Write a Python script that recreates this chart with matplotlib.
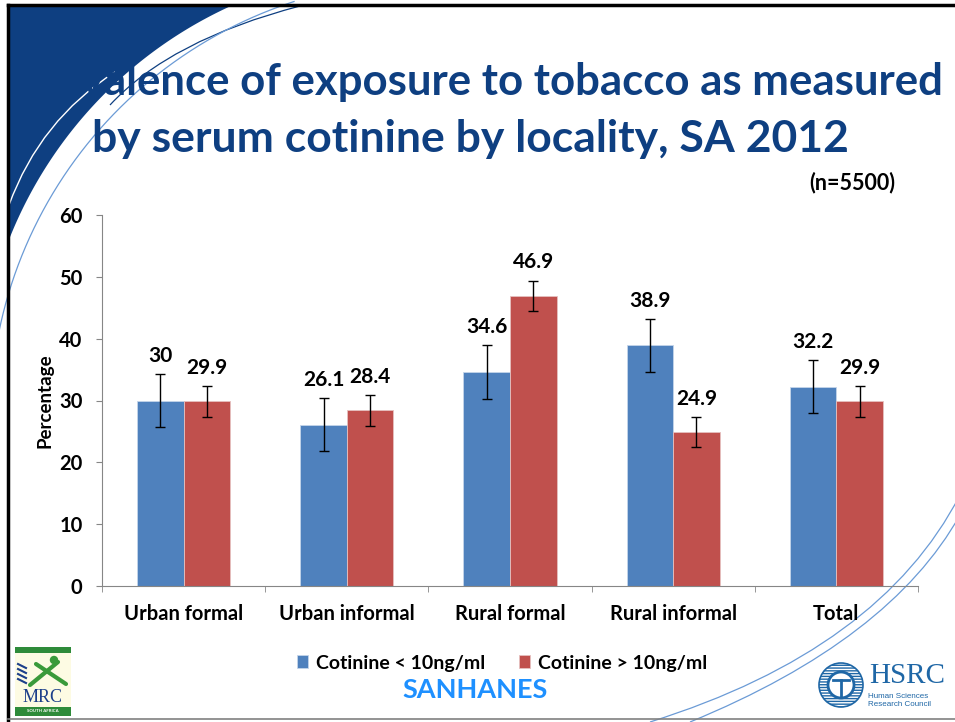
import numpy as np
import matplotlib.pyplot as plt
from matplotlib.patches import Polygon, Rectangle, Circle, PathPatch
from matplotlib.path import Path

# ---- data ----
categories = ['Urban formal', 'Urban informal', 'Rural formal', 'Rural informal', 'Total']
series_names = ['Cotinine < 10ng/ml', 'Cotinine > 10ng/ml']
low_cot = [30, 26.1, 34.6, 38.9, 32.2]
high_cot = [29.9, 28.4, 46.9, 24.9, 29.9]
low_err = [4.3, 4.3, 4.3, 4.3, 4.3]
high_err = [2.5, 2.5, 2.5, 2.5, 2.5]
yticks = [0, 10, 20, 30, 40, 50, 60]

plt.rcParams['font.family'] = ['Lato', 'DejaVu Sans']

W, H = 955, 722
fig = plt.figure(figsize=(W / 100, H / 100), dpi=100)

# ---- slide background (pixel coords) ----
bg = fig.add_axes([0, 0, 1, 1])
bg.set_xlim(0, W)
bg.set_ylim(H, 0)
bg.axis('off')

navy = '#0e3f81'
fx, fy = 8, 5   # frame corner
cx, cy, R = 409.5, 397.8, 430.6
a1 = np.arctan2(fy - cy, (cx - np.sqrt(R**2 - (cy - fy)**2)) - cx)
a2 = np.arctan2((cy - np.sqrt(R**2 - (cx - fx)**2)) - cy, fx - cx)
th = np.linspace(a1, a2, 200)
pts = np.column_stack([cx + R * np.cos(th), cy + R * np.sin(th)])
pts = np.vstack([[[fx, fy]], pts])
bg.add_patch(Polygon(pts, closed=True, facecolor=navy, edgecolor='none'))


def curve(p0, p1, p2, color, lw):
    path = Path([p0, p1, p2], [Path.MOVETO, Path.CURVE3, Path.CURVE3])
    bg.add_patch(PathPatch(path, facecolor='none', edgecolor=color, lw=lw))


# thin arcs top-left
th2 = np.linspace(np.pi * 1.04, 1.4 * np.pi, 300)
bg.plot(430 + 440 * np.cos(th2), 420 + 440 * np.sin(th2), color='#6b9bd6', lw=0.9)
curve((300, 6), (170, 40), (110, 105), navy, 0.9)
curve((9, 205), (40, 120), (115, 72), 'white', 1.0)
# thin arcs bottom-right
curve((650, 722), (880, 650), (960, 495), '#6b9bd6', 0.9)
curve((690, 722), (890, 640), (960, 515), '#6b9bd6', 0.9)

# frame
bg.plot([fx, W], [fy, fy], color='black', lw=2.5)
bg.plot([fx, fx], [fy, H], color='black', lw=2.5)
bg.plot([fx, W], [719, 719], color='#808080', lw=1.2)

# title
bg.text(478, 95, 'Prevalence of exposure to tobacco as measured', ha='center',
        va='baseline', fontsize=31.5, fontweight='bold', color=navy)
bg.text(470, 152, 'by serum cotinine by locality, SA 2012', ha='center',
        va='baseline', fontsize=32, fontweight='bold', color=navy)
bg.text(852, 183, '(n=5500)', ha='center', va='center', fontsize=15.5,
        fontweight='bold', color='black')
bg.text(475, 690, 'SANHANES', ha='center', va='center', fontsize=19.5,
        fontweight='bold', color='#1e90ff')

# MRC logo (rough)
bg.add_patch(Rectangle((15, 647), 56, 69, facecolor='#fdfbe3', edgecolor='none'))
bg.add_patch(Rectangle((15, 647), 56, 6, facecolor='#2e8b3a', edgecolor='none'))
bg.add_patch(Rectangle((15, 707), 56, 9, facecolor='#2e8b3a', edgecolor='none'))
bg.text(43, 711.5, 'SOUTH AFRICA', ha='center', va='center', fontsize=3.2,
        fontweight='bold', color='white')
bg.text(43, 697, 'MRC', ha='center', va='center', fontsize=13,
        family='Liberation Serif', color='#1c3f8a')
bg.plot([30, 58], [685, 662], color='#3a9a3a', lw=3, solid_capstyle='round')
bg.plot([36, 66], [664, 684], color='#3a9a3a', lw=3, solid_capstyle='round')
bg.add_patch(Circle((54, 660), 3.5, color='#3a9a3a'))
for k in range(4):
    bg.plot([18, 26], [664 + 5 * k, 668 + 5 * k], color='#1c3f8a', lw=1.5)

# HSRC logo (rough)
hcol = '#1f67a6'
bg.add_patch(Circle((841, 685), 22, facecolor='white', edgecolor=hcol,
                    hatch='------', lw=1.2))
bg.add_patch(Circle((841, 685), 13, facecolor='white', edgecolor=hcol, lw=2))
bg.plot([841, 841], [680, 697], color=hcol, lw=2)
bg.plot([833, 849], [680, 680], color=hcol, lw=2)
bg.text(907, 676, 'HSRC', ha='center', va='center', fontsize=21,
        family='Liberation Serif', color=hcol)
bg.text(868, 696, 'Human Sciences', ha='left', va='center', fontsize=5.8,
        family='Liberation Sans', color=hcol)
bg.text(868, 705, 'Research Council', ha='left', va='center', fontsize=5.8,
        family='Liberation Sans', color=hcol)

# ---- chart ----
ax = fig.add_axes([102 / W, 1 - 586 / H, (918 - 102) / W, (586 - 215) / H])
ax.patch.set_alpha(0)
x = np.arange(len(categories))
w = 0.285
ekw = dict(ecolor='black', elinewidth=1, capsize=3.5, capthick=1)
b1 = ax.bar(x - w / 2, low_cot, w, color='#4f81bd', edgecolor='#c5d5ea',
            linewidth=0.6, yerr=low_err, error_kw=ekw, label=series_names[0])
b2 = ax.bar(x + w / 2, high_cot, w, color='#c0504d', edgecolor='#e6c1c0',
            linewidth=0.6, yerr=high_err, error_kw=ekw, label=series_names[1])

for xs, vals, errs in [(x - w / 2, low_cot, low_err), (x + w / 2, high_cot, high_err)]:
    for xi, v, e in zip(xs, vals, errs):
        ax.annotate(f'{v:g}', (xi, v + e), xytext=(0, 13), textcoords='offset points',
                    ha='center', va='center', fontsize=15, fontweight='bold')

ax.set_xlim(-0.5, len(categories) - 0.5)
ax.set_ylim(0, 60)
ax.set_yticks(yticks)
ax.set_xticks(x)
ax.set_xticklabels(categories)
ax.set_xticks(np.arange(-0.5, len(categories)), minor=True)
for lab in ax.get_xticklabels() + ax.get_yticklabels():
    lab.set_fontweight('bold')
ax.tick_params(axis='y', labelsize=14.5, length=4, color='#868686', pad=10)
ax.tick_params(axis='x', which='major', labelsize=14.5, length=0, pad=13)
ax.tick_params(axis='x', which='minor', length=4, color='#868686')
for s in ['top', 'right']:
    ax.spines[s].set_visible(False)
for s in ['left', 'bottom']:
    ax.spines[s].set_color('#868686')
ax.set_ylabel('Percentage', fontsize=13.5, fontweight='bold')
ax.yaxis.set_label_coords(-0.06, 0.5)

fig.legend(handles=[b1, b2], labels=series_names, loc='center',
           bbox_to_anchor=(502 / W, 1 - 663 / H), ncol=2, frameon=False,
           prop={'size': 14, 'weight': 'bold'}, handlelength=0.6,
           handleheight=0.6, handletextpad=0.4, columnspacing=1.7)

fig.savefig('out.png', dpi=100)
